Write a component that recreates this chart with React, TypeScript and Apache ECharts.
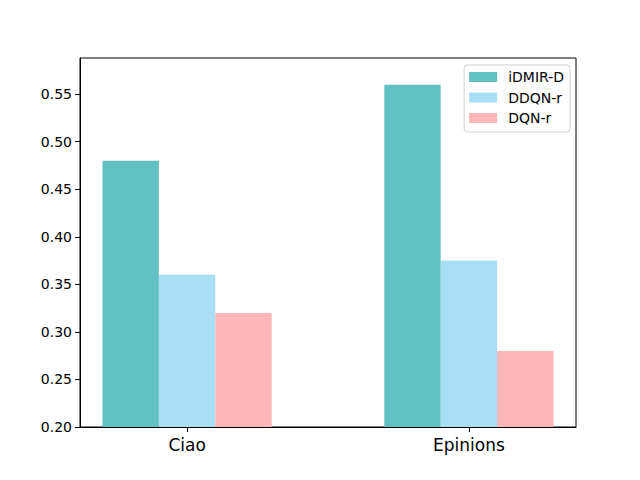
import React, { useEffect, useRef } from "react";
import * as echarts from "echarts";

const categories = ["Ciao", "Epinions"];
const seriesNames = ["iDMIR-D", "DDQN-r", "DQN-r"];
const idmirD = [0.48, 0.56];
const ddqnR = [0.36, 0.375];
const dqnR = [0.32, 0.28];
const yTicks = [0.2, 0.25, 0.3, 0.35, 0.4, 0.45, 0.5, 0.55];
const colors = ["#61c0c1", "#a8dff4", "#ffb6b9"];

export default function App() {
  const ref = useRef<HTMLDivElement>(null);
  useEffect(() => {
    document.body.style.margin = "0";
    const chart = echarts.init(ref.current!, null, { renderer: "svg" });
    const values = [idmirD, ddqnR, dqnR];
    const font = "DejaVu Sans";
    chart.setOption({
      animation: false,
      textStyle: { fontFamily: font },
      grid: {
        left: 80,
        right: 64,
        top: 58,
        bottom: 53,
        show: true,
        borderColor: "#000",
        borderWidth: 1,
      },
      legend: {
        orient: "vertical",
        right: 70,
        top: 65,
        data: seriesNames,
        icon: "rect",
        itemWidth: 28,
        itemHeight: 10,
        itemGap: 6.5,
        padding: [5, 6, 7, 5],
        borderColor: "#d0d0d0",
        borderWidth: 1,
        borderRadius: 3,
        backgroundColor: "rgba(255,255,255,0.8)",
        textStyle: { fontSize: 14, color: "#000", fontFamily: font, padding: [0, 0, 0, 6] },
      },
      xAxis: {
        type: "value",
        min: -0.38,
        max: 1.38,
        splitLine: { show: false },
        axisLine: { show: true, onZero: false, lineStyle: { color: "#000" } },
        axisTick: {
          show: true,
          customValues: [0, 1],
          length: 5,
          lineStyle: { color: "#000" },
        },
        axisLabel: {
          customValues: [0, 1],
          formatter: (v: number) => categories[Math.round(v)] ?? "",
          fontSize: 17,
          color: "#000",
          margin: 9,
          fontFamily: font,
        },
      },
      yAxis: {
        type: "value",
        min: 0.2,
        max: 0.588,
        splitLine: { show: false },
        axisLine: { show: true, onZero: false, lineStyle: { color: "#000" } },
        axisTick: {
          show: true,
          customValues: yTicks,
          length: 5,
          lineStyle: { color: "#000" },
        },
        axisLabel: {
          customValues: yTicks,
          formatter: (v: number) => v.toFixed(2),
          fontSize: 14,
          color: "#000",
          margin: 8,
          fontFamily: font,
        },
      },
      series: seriesNames.map((name, i) => ({
        name,
        type: "bar",
        barWidth: 56.4,
        barGap: "0%",
        itemStyle: { color: colors[i] },
        data: values[i].map((v, j) => [j, v]),
      })),
    });
    return () => chart.dispose();
  }, []);
  return <div ref={ref} style={{ width: 640, height: 480 }} />;
}
